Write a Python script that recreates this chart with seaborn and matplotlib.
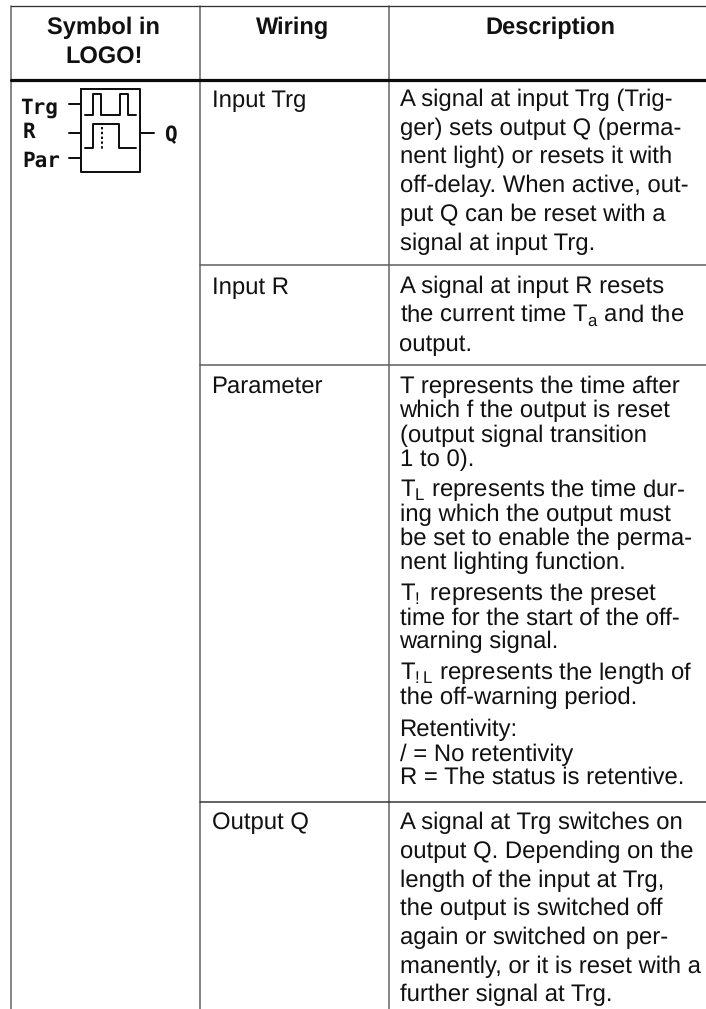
import matplotlib
matplotlib.use("Agg")
import matplotlib.pyplot as plt
import seaborn as sns

sns.set_theme(style="white")
plt.rcParams['font.family'] = ['Liberation Sans', 'DejaVu Sans']
plt.rcParams['mathtext.fontset'] = 'custom'
plt.rcParams['mathtext.rm'] = 'Liberation Sans'
plt.rcParams['mathtext.default'] = 'regular'
plt.rcParams['text.hinting'] = 'none'

W, H = 706, 1009
PX = 72 / 100  # points per pixel at dpi 100

# Table content
header_labels = ["Symbol in", "LOGO!", "Wiring", "Description"]
header_x = [103.5, 104, 292.5, 550]
header_y = [34, 63.5, 34, 34]
wiring_labels = ["Input Trg", "Input R", "Parameter", "Output Q"]
wiring_y = [107, 294, 393, 829]

description_lines = [
    "A signal at input Trg (Trig-", "ger) sets output Q (perma-",
    "nent light) or resets it with", "off-delay. When active, out-",
    "put Q can be reset with a", "signal at input Trg.",
    "A signal at input R resets", "the current time T$_{a}$ and the", "output.",
    "T represents the time after", "which f the output is reset",
    "(output signal transition", "1 to 0).",
    "T$_{L}$ represents the time dur-", "ing which the output must",
    "be set to enable the perma-", "nent lighting function.",
    "T$_{!}$ represents the preset", "time for the start of the off-", "warning signal.",
    "T$_{!L}$ represents the length of", "the off-warning period.",
    "Retentivity:", "/ = No retentivity", "R = The status is retentive.",
    "A signal at Trg switches on", "output Q. Depending on the",
    "length of the input at Trg,", "the output is switched off",
    "again or switched on per-", "manently, or it is reset with a",
    "further signal at Trg.",
]
description_y = [
    106, 135, 163, 192, 221, 250,
    293, 322, 351,
    393, 417, 442, 466,
    497, 521, 545, 569,
    601, 625, 648,
    680, 704,
    736, 761, 784,
    829, 858, 887, 915, 944, 973, 1001,
]

# Table rules
vertical_x = [11, 200, 389]
row_rules_y = [265, 365, 802]

# LOGO! block symbol
pin_labels = ["Trg", "R", "Par", "Q"]
pin_label_x = [20, 23, 22, 164]
pin_label_y = [114, 138, 167, 141]
pin_y = [104, 133, 158]
pulse_1_x = [85, 93, 93, 101, 101, 120, 120, 128, 128, 136]
pulse_1_y = [115, 115, 94, 94, 115, 115, 94, 94, 115, 115]
pulse_2_x = [85, 93, 93, 119, 119, 136]
pulse_2_y = [148, 148, 124, 124, 148, 148]

fig = plt.figure(figsize=(W / 100, H / 100), dpi=100)
ax = fig.add_axes([0, 0, 1, 1])
ax.set_xlim(0, W)
ax.set_ylim(H, 0)
ax.axis("off")


def rule(xs, ys, lw=1.6, color="#6a6a6a", ls="-"):
    sns.lineplot(x=xs, y=ys, sort=False, estimator=None, ax=ax, color=color,
                 linewidth=lw * PX, linestyle=ls, legend=False)


# Rules
for vx in vertical_x:
    rule([vx, vx], [6, H])
rule([11, W], [6, 6], lw=1.3, color="#333333")
rule([11, W], [80, 80], lw=3.2, color="#0a0a0a")
for ry, col in zip(row_rules_y, ["#5a5a5a", "#5a5a5a", "#333333"]):
    rule([200, W], [ry, ry], lw=1.5, color=col)

# Text
FS = 23.9 * PX
for lab, x, y in zip(header_labels, header_x, header_y):
    ax.text(x, y, lab, ha="center", va="baseline", fontsize=23.6 * PX,
            fontweight="bold", color="#111111")
for lab, y in zip(wiring_labels, wiring_y):
    ax.text(211.5, y, lab, ha="left", va="baseline", fontsize=FS, color="#111111")
for lab, y in zip(description_lines, description_y):
    ax.text(399.5, y, lab, ha="left", va="baseline", fontsize=FS, color="#111111")

# Symbol
sym = "#111111"
rule([81, 140, 140, 81, 81], [89, 89, 172, 172, 89], lw=2, color=sym)
for y in pin_y:
    rule([69, 81], [y, y], lw=2, color=sym)
rule([140, 154], [133, 133], lw=2, color=sym)
rule(pulse_1_x, pulse_1_y, lw=2, color=sym)
rule(pulse_2_x, pulse_2_y, lw=2, color=sym)
rule([102, 102], [127, 149], lw=2, color=sym, ls=(0, (1.2, 1.2)))
for lab, x, y in zip(pin_labels, pin_label_x, pin_label_y):
    ax.text(x, y, lab, ha="left", va="baseline", fontsize=21 * PX,
            family="DejaVu Sans Mono", fontweight="bold", color=sym)

fig.savefig("out.png", dpi=100)
